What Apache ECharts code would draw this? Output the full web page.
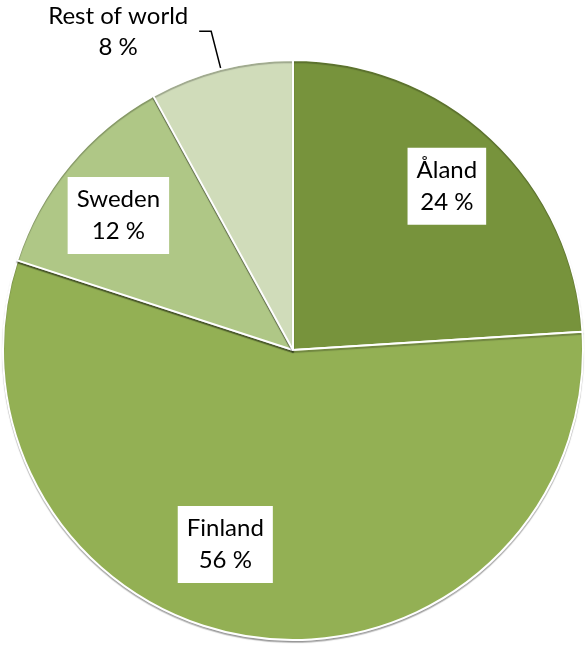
<!DOCTYPE html>
<html>
<head>
<meta charset="utf-8">
<script src="https://cdn.jsdelivr.net/npm/echarts@6/dist/echarts.min.js"></script>
<style>
  html, body { margin: 0; padding: 0; background: #ffffff; }
  #chart { width: 585px; height: 645px; }
</style>
</head>
<body>
<div id="chart"></div>
<script>
const categories = ['Åland', 'Finland', 'Sweden', 'Rest of world'];
const shares = [24, 56, 12, 8];
const sliceColors = ['#77933C', '#93B054', '#AFC786', '#D0DCBA'];
// inside label placement: [radius fraction, angle shift in degrees]; null = outside label
const labelPlacement = [[0.775, 0], [0.71, 12], [0.76, -2], null];

const CX = 293, CY = 350, R = 290;
const FONT = 'Lato';
const total = shares.reduce((a, b) => a + b, 0);

const chart = echarts.init(document.getElementById('chart'), null, { renderer: 'canvas' });

const data = categories.map((name, i) => {
  const item = {
    name: name,
    value: shares[i],
    itemStyle: { color: sliceColors[i] }
  };
  if (labelPlacement[i] === null) {
    item.label = {
      position: 'outside',
      backgroundColor: 'transparent',
      padding: 0,
      distanceToLabelLine: 10,
      formatter: (p) => '{t|' + p.name + '}\n{t|' + p.value + ' %}',
      rich: { t: { width: 142, align: 'center', fontFamily: FONT, fontSize: 24, lineHeight: 31, color: '#000' } }
    };
    item.labelLine = { show: true, length: 39, length2: 12, lineStyle: { color: '#000', width: 1.5 } };
  }
  return item;
});

function midAngle(idx) {
  let before = 0;
  for (let k = 0; k < idx; k++) before += shares[k];
  return (before + shares[idx] / 2) / total * 360;
}

chart.setOption({
  animation: false,
  backgroundColor: '#ffffff',
  series: [{
    type: 'pie',
    center: [CX, CY],
    radius: [0, R],
    startAngle: 90,
    clockwise: true,
    avoidLabelOverlap: false,
    itemStyle: {
      borderColor: '#ffffff',
      borderWidth: 2,
      shadowColor: 'rgba(0,0,0,0.25)',
      shadowBlur: 1,
      shadowOffsetY: 2
    },
    label: {
      show: true,
      position: 'inside',
      formatter: (p) => p.name + '\n' + p.value + ' %',
      fontFamily: FONT,
      fontSize: 24,
      lineHeight: 32,
      color: '#000',
      backgroundColor: '#ffffff',
      padding: [7, 9, 6, 9],
      align: 'center'
    },
    labelLine: { show: false },
    labelLayout: function (params) {
      const pl = labelPlacement[params.dataIndex];
      if (!pl) return {};
      const a = (midAngle(params.dataIndex) + pl[1]) * Math.PI / 180;
      return {
        x: CX + Math.sin(a) * R * pl[0],
        y: CY - Math.cos(a) * R * pl[0],
        align: 'center',
        verticalAlign: 'middle'
      };
    },
    data: data
  }]
});
</script>
</body>
</html>
